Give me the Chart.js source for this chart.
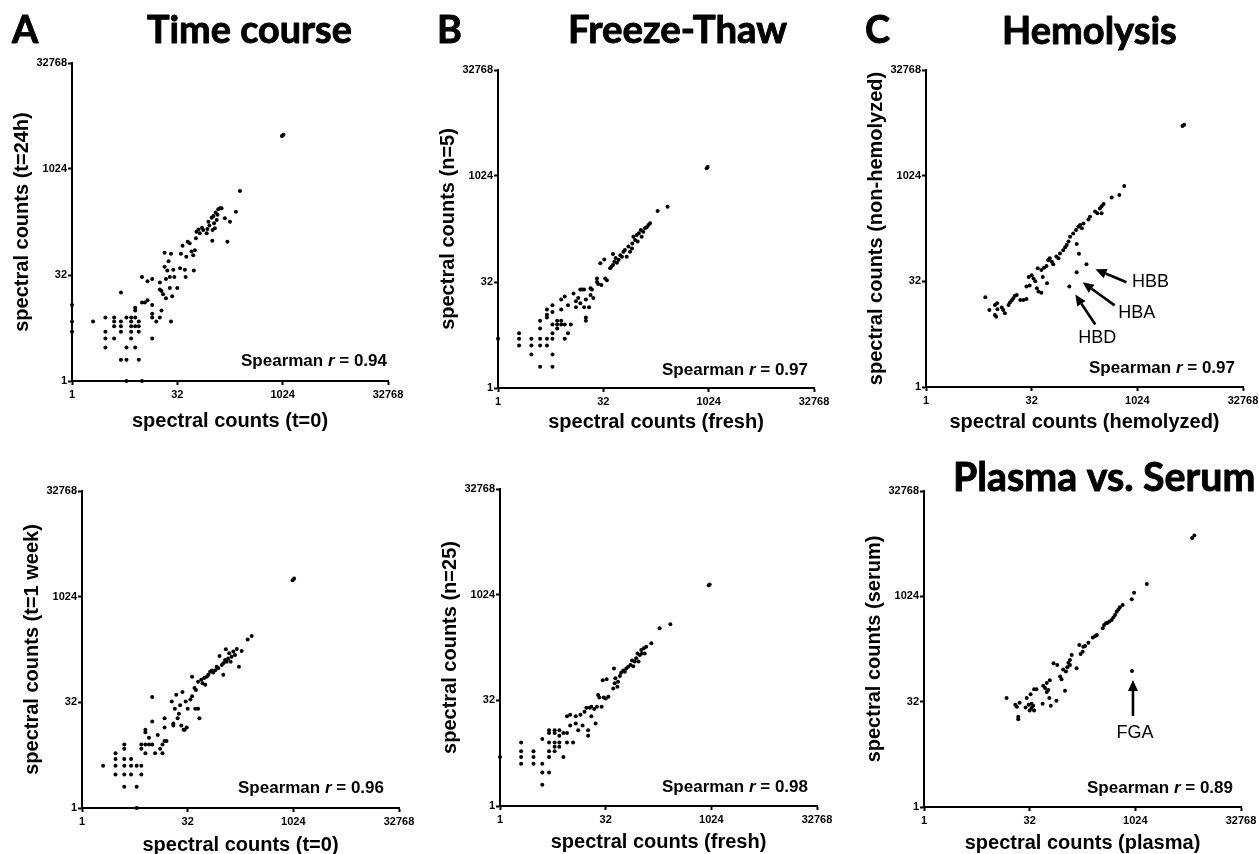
<!DOCTYPE html>
<html>
<head>
<meta charset="utf-8">
<script src="https://cdn.jsdelivr.net/npm/chart.js@4.4.1/dist/chart.umd.min.js"></script>
<style>
  html, body { margin: 0; padding: 0; background: #fff; }
  body { width: 1259px; height: 854px; position: relative; overflow: hidden; }
  canvas { position: absolute; }
</style>
</head>
<body>
<canvas id="heads" width="1259" height="854" style="left:0;top:0"></canvas>
<script>
const tickValues = [1, 32, 1024, 32768];

// A, top: t=0 vs t=24h
const timeCourseT0 = [1,1,1,2,3,3,3,3,4,4,4,4,5,5,5,5,5,6,6,6,6,7,7,7,7,7,8,8,8,8,8,9,9,9,9,10,10,10,11,12,12,14,14,14,14,14,16,18,19,18,19,20,22,21,21,24,23,22,25,26,26,27,28,29,32,35,38,36,41,42,43,45,48,51,54,55,57,59,60,64,67,72,75,84,86,92,89,99,105,102,101,107,113,117,123,130,137,120,110,153,166,181,220,251,1000,1050,18,25];
const timeCourse24h = [12,7,5,7,8,5,4,3,8,7,6,4,7,6,5,2,18,8,3,2,1,8,7,6,5,4,8,11,10,6,3,7,6,5,2,1,30,13,13,14,26,28,4,12,9,8,7,8,10,25,19,17,15,42,66,50,37,28,30,64,7,16,38,30,21,40,83,64,38,30,58,95,90,69,61,37,72,106,132,142,125,150,139,125,144,161,183,208,220,139,98,174,246,193,274,283,283,230,147,204,95,183,254,498,3000,3150,20,21];

// A, bottom: t=0 vs t=1 week
const weekT0 = [2,3,3,3,3,4,4,4,4,4,4,5,5,5,6,6,6,7,7,7,8,9,10,7,8,8,8,9,10,10,11,12,13,14,14,15,16,15,15,19,20,20,21,22,23,24,25,26,27,28,29,30,31,32,35,37,37,41,40,42,45,47,45,50,52,55,57,60,63,67,71,74,79,83,87,91,98,103,103,109,112,115,121,125,131,135,143,151,160,172,188,229,261,1000,1050];
const weekT1 = [4,6,5,4,3,8,7,5,4,3,2,5,4,3,4,2,1,4,3,8,8,8,8,7,6,13,12,10,17,38,6,11,7,6,8,9,9,19,14,33,16,15,26,41,19,22,29,15,45,13,13,33,14,26,35,74,39,26,51,48,26,19,63,67,60,71,57,74,79,87,91,85,92,103,98,146,109,115,79,128,182,121,135,160,121,143,169,151,184,103,172,252,282,1760,1860];

// B, top: fresh vs n=5
const fresh5 = [1,2,2,2,3,3,3,4,4,4,4,4,5,5,5,5,5,6,6,6,6,6,6,6,7,7,7,8,8,8,8,9,9,9,10,10,11,12,13,13,14,15,15,17,16,18,18,18,20,17,21,22,23,21,26,26,27,29,30,33,34,36,40,42,44,44,46,48,50,53,56,59,62,65,69,73,77,82,83,86,91,96,99,103,110,113,119,126,133,141,149,191,265,960,990];
const thaw5 = [5,6,5,4,5,4,3,9,7,5,4,2,13,11,10,5,4,15,12,8,6,5,3,2,9,8,7,18,13,9,8,5,20,8,15,6,8,22,17,14,19,25,16,14,25,10,9,18,14,25,26,25,19,21,36,32,30,59,29,67,36,34,50,53,80,56,62,70,60,66,77,73,86,91,73,102,86,96,113,141,126,149,120,158,175,141,166,185,191,206,218,326,375,1320,1370];

// B, bottom: fresh vs n=25
const fresh25 = [1,2,2,2,2,3,3,3,4,4,4,4,5,5,5,5,5,5,6,6,6,6,6,7,7,7,7,8,8,9,9,11,10,12,13,12,9,10,14,15,16,17,18,18,19,20,20,22,23,24,25,26,28,29,30,33,32,35,42,41,43,44,47,48,51,53,57,60,63,67,72,76,79,83,87,91,94,98,103,105,112,115,121,143,188,267,940,970];
const thaw25 = [5,8,6,5,4,6,5,4,9,4,3,2,12,11,8,6,5,3,12,11,8,7,6,12,10,8,7,5,11,11,8,8,14,15,12,19,19,20,20,14,22,25,12,10,25,19,26,24,15,26,38,35,26,62,35,64,34,36,91,47,56,66,50,59,71,79,85,82,91,96,102,118,98,114,127,149,114,142,167,149,176,149,186,208,340,388,1390,1430];

// C, top: hemolyzed vs non-hemolyzed
const hemolyzed = [7,8,9.6,10,9.6,10.3,10.4,12,12.6,13.3,15,15.7,16.6,17.5,18.5,19.6,22,24.4,27,27,30,29,32,34,38,40,44,39,44,46,53,52,55,58,62,65,72,77,81,90,96,101,107,113,125,137,148,157,166,175,206,217,256,276,300,317,338,317,442,568,667,140,151,193,140,110,4500,4750,36,48];
const nonHemolyzed = [19,12.5,10.6,10,14.7,15.6,12.8,13.6,12.5,11.2,14.7,16,17,18.4,20,20.4,17.4,17.4,18,27,28,37,39,35,25.5,23,22,49,46.5,37,30,53,64,68,61,56,72,68,80,89,98,105,118,138,154,172,192,203,182,214,244,267,315,298,350,377,404,298,502,544,730,109,79,56,43,27,5200,5450,32,50];

// C, bottom: plasma vs serum
const plasma = [15,20,21,22,22,23,29,28,31,32,33,34,34,36,37,37,40,49,50,53,56,56,59,61,62,64,77,70,79,87,91,96,102,105,110,114,120,127,120,149,163,170,182,186,197,220,254,275,290,352,367,391,410,437,471,498,526,556,588,617,675,910,982,1489,6600,7100,917];
const serum = [36,29,27,19.5,18,31,36,26.5,29,24,41,30,26,28,24,48,48,30,54,50,59,44,47,36,65,28,33,113,107,73,67,92,46,86,99,115,126,149,107,96,206,153,166,195,199,223,265,278,286,357,399,422,430,446,471,512,553,617,666,714,771,929,1152,1541,7000,7550,88];

const SANS = "'Liberation Sans', Arial, Helvetica, sans-serif";
const HEAD = "Lato, 'Open Sans', sans-serif";

// headings: left edge, baseline, target width (letters take the size of the title named in "like")
const heads = [
  { text: 'Time course', left: 147, base: 43, width: 205 },
  { text: 'Freeze-Thaw', left: 568, base: 43, width: 219 },
  { text: 'Hemolysis', left: 1002, base: 44, width: 175 },
  { text: 'Plasma vs. Serum', left: 953, base: 491, width: 302 },
  { text: 'A', left: 12, base: 43, like: 'Time course' },
  { text: 'B', left: 437, base: 43, like: 'Time course' },
  { text: 'C', left: 865, base: 43, like: 'Time course' }
];

// box = plot area [left, top, right, bottom]
const panels = [
  { xs: timeCourseT0, ys: timeCourse24h, xTitle: 'spectral counts (t=0)', yTitle: 'spectral counts (t=24h)',
    r: '0.94', box: [72, 63, 388, 381], xTitleY: 421, rPos: [1, 20], notes: [] },
  { xs: fresh5, ys: thaw5, xTitle: 'spectral counts (fresh)', yTitle: 'spectral counts (n=5)',
    r: '0.97', box: [498, 70, 814, 388], xTitleY: 422, rPos: [6, 18], notes: [] },
  { xs: hemolyzed, ys: nonHemolyzed, xTitle: 'spectral counts (hemolyzed)', yTitle: 'spectral counts (non-hemolyzed)',
    r: '0.97', box: [926, 70, 1243, 387], xTitleY: 422, rPos: [8, 19],
    notes: [
      { x: 193, y: 56, label: 'HBB', tip: [9, 5], tail: [40, 18], text: [64, 18] },
      { x: 140, y: 43, label: 'HBA', tip: [6, 10], tail: [38, 33], text: [60, 41] },
      { x: 110, y: 27, label: 'HBD', tip: [6, 8], tail: [26, 38], text: [28, 52] }
    ] },
  { xs: weekT0, ys: weekT1, xTitle: 'spectral counts (t=0)', yTitle: 'spectral counts (t=1 week)',
    r: '0.96', box: [82, 491, 399, 808], xTitleY: 845, rPos: [15, 20], notes: [] },
  { xs: fresh25, ys: thaw25, xTitle: 'spectral counts (fresh)', yTitle: 'spectral counts (n=25)',
    r: '0.98', box: [500, 489, 817, 806], xTitleY: 842, rPos: [9, 19], notes: [] },
  { xs: plasma, ys: serum, xTitle: 'spectral counts (plasma)', yTitle: 'spectral counts (serum)',
    r: '0.89', box: [924, 491, 1241, 807], xTitleY: 843, rPos: [8, 19],
    notes: [ { x: 917, y: 88, label: 'FGA', tip: [1, 9], tail: [1, 45], text: [3, 62] } ] }
];

function drawHeads() {
  const ctx = document.getElementById('heads').getContext('2d');
  ctx.fillStyle = '#000';
  ctx.strokeStyle = '#000';
  ctx.lineWidth = 0.9;
  ctx.lineJoin = 'round';
  ctx.textBaseline = 'alphabetic';
  const sizes = {};
  heads.forEach((h) => {
    let size;
    if (h.like) {
      size = sizes[h.like];
    } else {
      ctx.font = `bold 100px ${HEAD}`;
      size = 100 * h.width / ctx.measureText(h.text).width;
      sizes[h.text] = size;
    }
    ctx.font = `bold ${size.toFixed(1)}px ${HEAD}`;
    ctx.fillText(h.text, h.left, h.base);
    ctx.strokeText(h.text, h.left, h.base);
  });
}

function arrow(ctx, x1, y1, x2, y2) {
  const a = Math.atan2(y2 - y1, x2 - x1);
  const len = 11, half = 5;
  const bx = x2 - len * Math.cos(a), by = y2 - len * Math.sin(a);
  ctx.lineWidth = 2.6;
  ctx.beginPath();
  ctx.moveTo(x1, y1);
  ctx.lineTo(bx, by);
  ctx.stroke();
  ctx.beginPath();
  ctx.moveTo(x2, y2);
  ctx.lineTo(bx + half * Math.sin(a), by - half * Math.cos(a));
  ctx.lineTo(bx - half * Math.sin(a), by + half * Math.cos(a));
  ctx.closePath();
  ctx.fill();
}

function textPlugin(p) {
  return {
    id: 'panelText',
    afterDraw(chart) {
      const { ctx, chartArea, scales } = chart;
      ctx.save();
      ctx.fillStyle = '#000';
      ctx.strokeStyle = '#000';
      ctx.textBaseline = 'middle';
      ctx.textAlign = 'left';
      const parts = [['Spearman ', 'bold'], ['r', 'italic bold'], [' = ' + p.r, 'bold']];
      let total = 0;
      parts.forEach((pt) => {
        ctx.font = `${pt[1]} 17px ${SANS}`;
        pt.push(ctx.measureText(pt[0]).width);
        total += pt[2];
      });
      let x = chartArea.right - p.rPos[0] - total;
      const y = chartArea.bottom - p.rPos[1];
      parts.forEach((pt) => {
        ctx.font = `${pt[1]} 17px ${SANS}`;
        ctx.fillText(pt[0], x, y);
        x += pt[2];
      });

      p.notes.forEach((n) => {
        const px = scales.x.getPixelForValue(n.x);
        const py = scales.y.getPixelForValue(n.y);
        arrow(ctx, px + n.tail[0], py + n.tail[1], px + n.tip[0], py + n.tip[1]);
        ctx.font = `18px ${SANS}`;
        ctx.textAlign = 'center';
        ctx.fillText(n.label, px + n.text[0], py + n.text[1]);
      });
      ctx.restore();
    }
  };
}

function axis(position, title, size) {
  const left = position === 'left';
  return {
    type: 'logarithmic',
    position,
    min: 1,
    max: 32768,
    afterBuildTicks(s) {
      s.ticks = tickValues.map((v) => ({ value: v }));
    },
    afterFit(s) {
      if (left) {
        s.width = size;
        s.paddingTop = 0;
        s.paddingBottom = 0;
      } else {
        s.height = size;
        s.paddingLeft = 0;
        s.paddingRight = 0;
      }
    },
    ticks: {
      color: '#000',
      font: { family: SANS, size: 11, weight: 'bold' },
      padding: left ? 1 : 3,
      autoSkip: false,
      maxRotation: 0,
      callback: (v) => String(v)
    },
    grid: { drawOnChartArea: false, drawTicks: true, tickLength: 4, tickColor: '#000', tickWidth: 2 },
    border: { color: '#000', width: 2 },
    title: { display: true, text: title, color: '#000', padding: 0, font: { family: SANS, size: 20, weight: 'bold' } }
  };
}

function makeChart(p) {
  const [l, t, r, b] = p.box;
  const yW = 62, padTop = 12, padRight = 24;
  const xH = p.xTitleY - b + 12;
  const canvas = document.createElement('canvas');
  canvas.width = r - l + yW + padRight;
  canvas.height = b - t + padTop + xH;
  canvas.style.left = (l - yW) + 'px';
  canvas.style.top = (t - padTop) + 'px';
  document.body.appendChild(canvas);

  new Chart(canvas, {
    type: 'scatter',
    data: {
      datasets: [{
        data: p.xs.map((x, i) => ({ x, y: p.ys[i] })),
        backgroundColor: '#000',
        borderColor: '#000',
        pointRadius: 2,
        pointBorderWidth: 0,
        clip: false
      }]
    },
    options: {
      responsive: false,
      animation: false,
      events: [],
      layout: { padding: { top: padTop, right: padRight, left: 0, bottom: 0 } },
      plugins: { legend: { display: false }, tooltip: { enabled: false } },
      scales: {
        x: axis('bottom', p.xTitle, xH),
        y: axis('left', p.yTitle, yW)
      }
    },
    plugins: [textPlugin(p)]
  });
}

drawHeads();
panels.forEach(makeChart);
</script>
</body>
</html>
